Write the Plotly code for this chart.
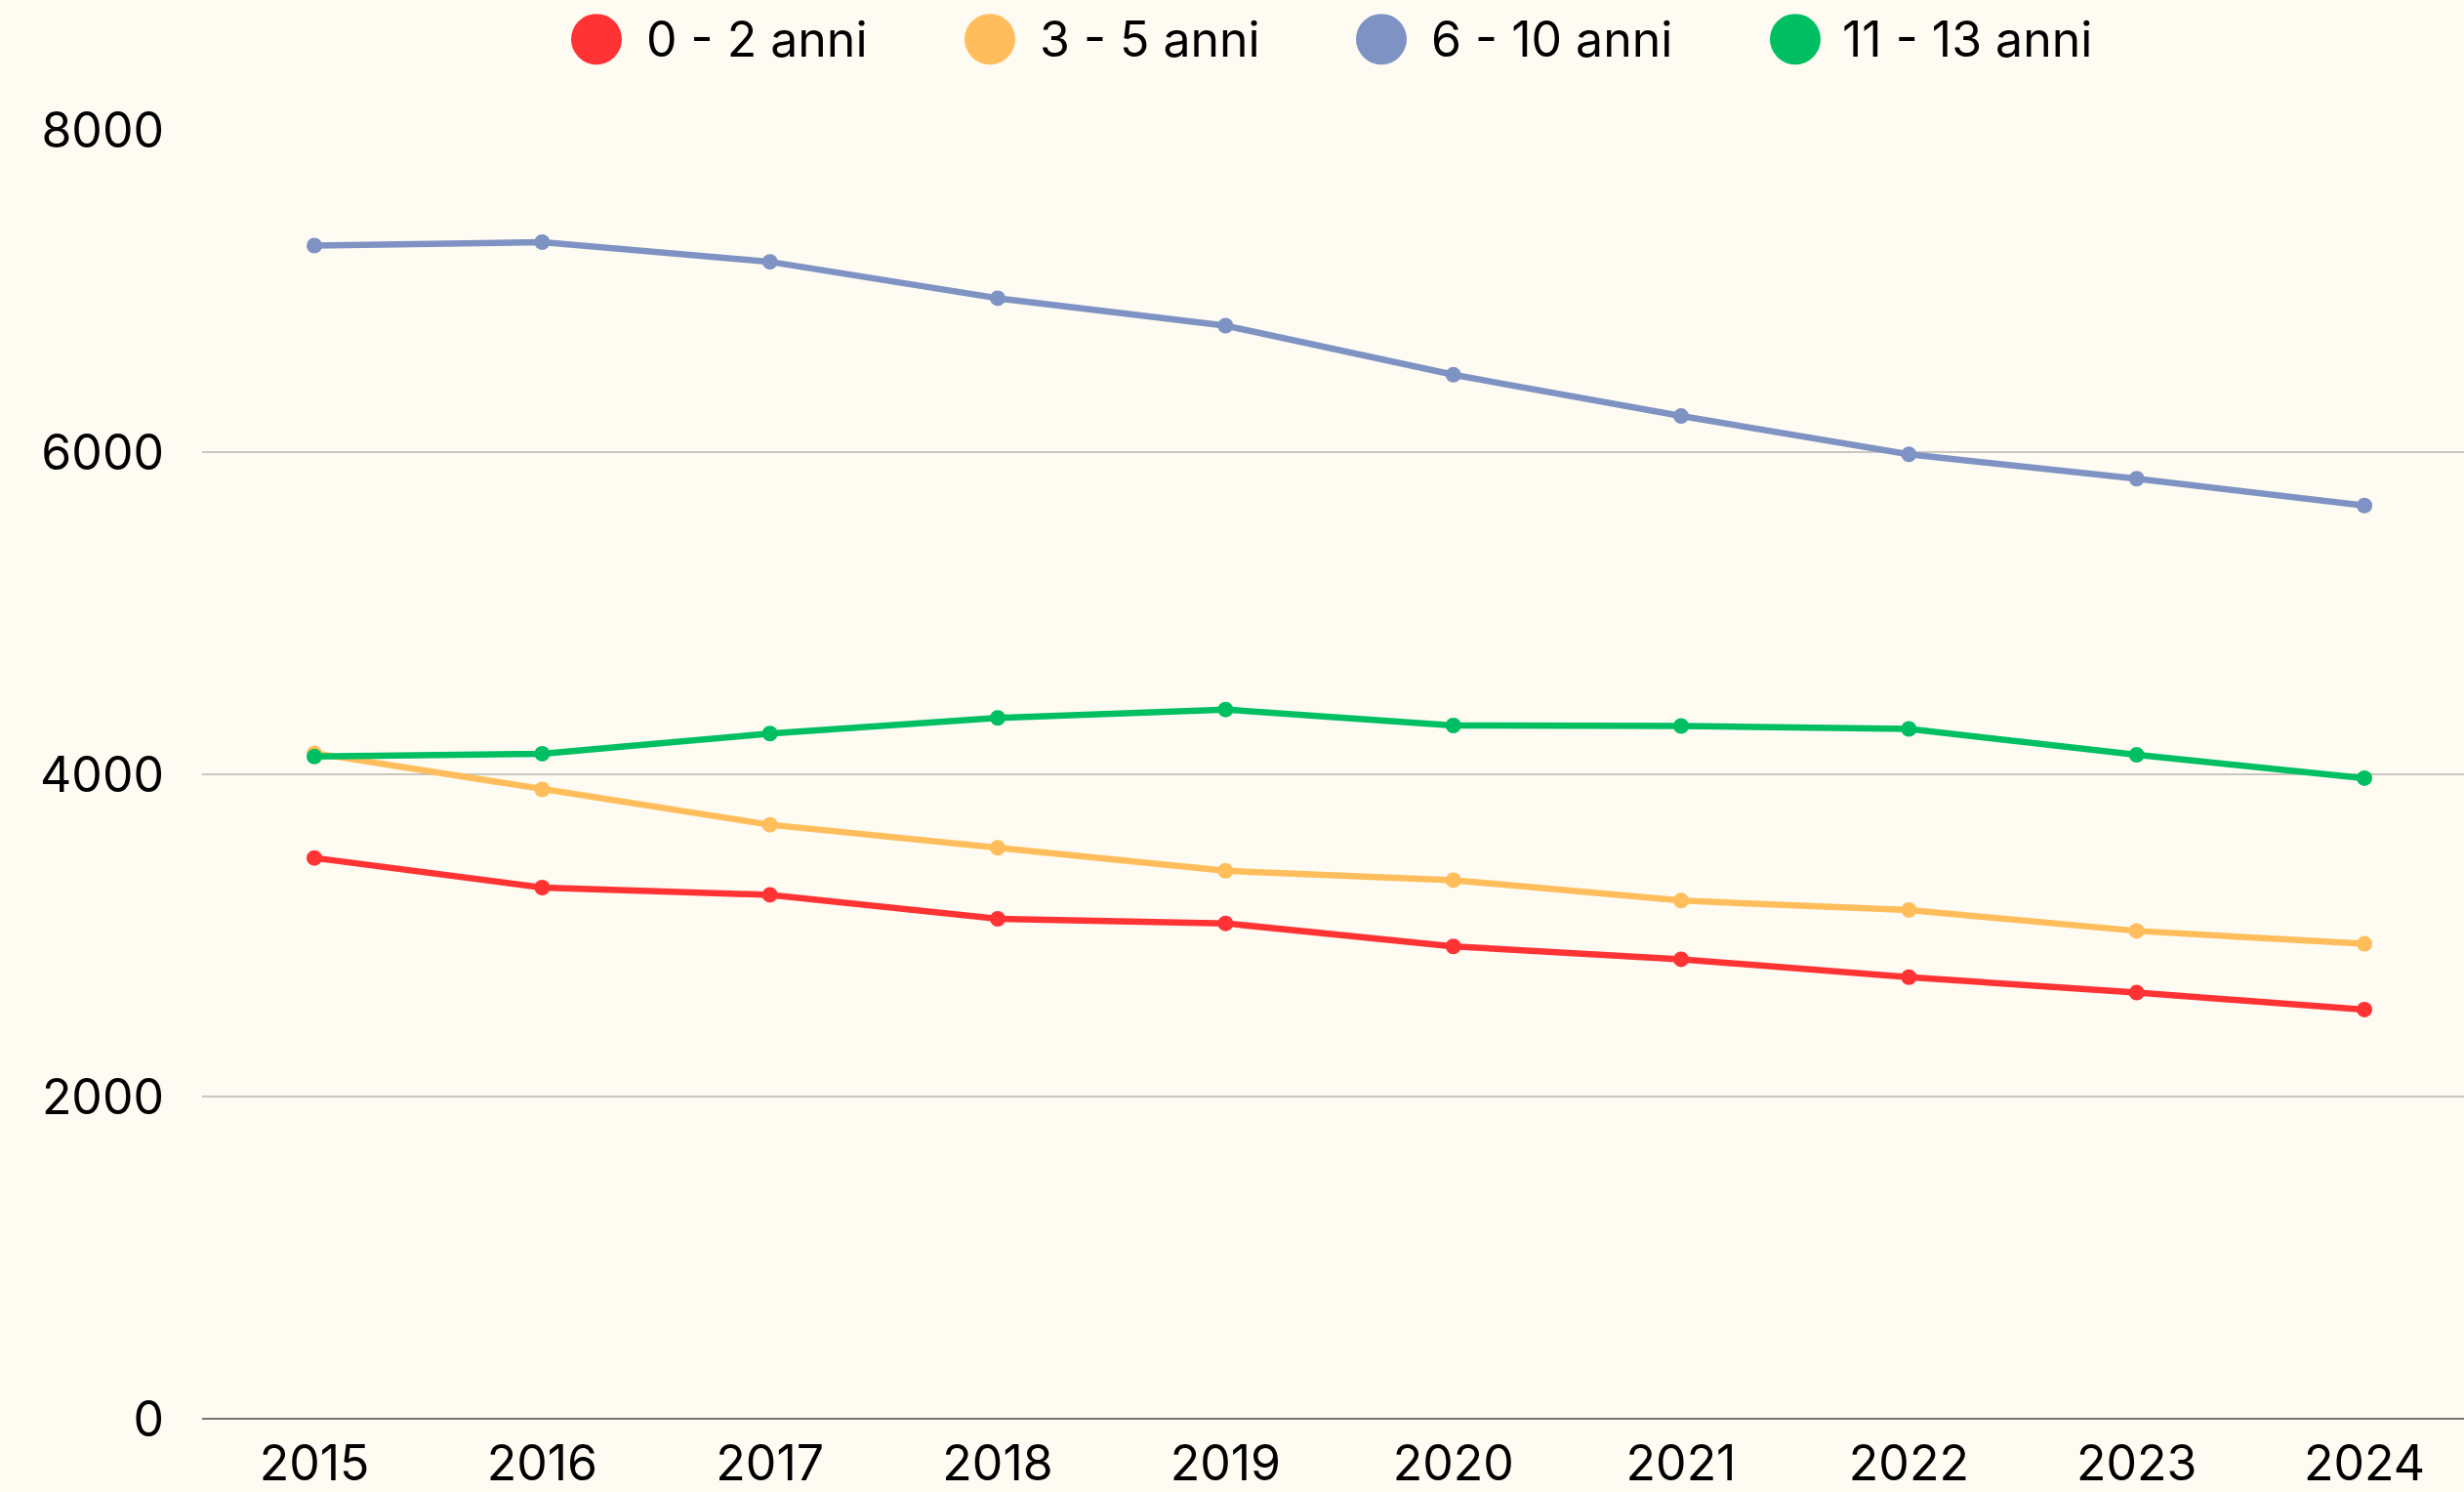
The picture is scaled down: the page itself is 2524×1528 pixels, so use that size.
"""
Andamento della popolazione per fasce d'età (2015-2024)
"""
import plotly.graph_objects as go

# dati
anni = [2015, 2016, 2017, 2018, 2019, 2020, 2021, 2022, 2023, 2024]
eta_0_2 = [3481, 3297, 3252, 3103, 3075, 2932, 2852, 2741, 2645, 2540]
eta_3_5 = [4131, 3906, 3687, 3544, 3401, 3343, 3216, 3158, 3028, 2948]
eta_6_10 = [7282, 7303, 7181, 6955, 6785, 6480, 6224, 5986, 5835, 5668]
eta_11_13 = [4110, 4128, 4253, 4350, 4402, 4303, 4300, 4282, 4121, 3976]

etichette = ["0 - 2 anni", "3 - 5 anni", "6 - 10 anni", "11 - 13 anni"]
colori = ["#ff3334", "#ffbe5b", "#7e93c3", "#00bf63"]
serie = [eta_0_2, eta_3_5, eta_6_10, eta_11_13]

SFONDO = "#fefbf3"
FONT = "Inter"

W, H = 2524, 1528
ML, MR, MT, MB = 207, 0, 133, 73


def px_to_paper(x, y):
    """converte coordinate pixel in coordinate paper"""
    return (x - ML) / (W - ML - MR), (H - MB - y) / (H - MT - MB)


fig = go.Figure()

for nome, col, valori in zip(etichette, colori, serie):
    fig.add_trace(go.Scatter(
        x=anni, y=valori, name=nome, mode="lines+markers",
        line=dict(color=col, width=6.5),
        marker=dict(color=col, size=16),
        showlegend=False,
    ))

# legenda disegnata a mano (cerchi grandi)
pos_legenda = [(611, 660), (1014, 1063), (1415, 1464), (1839, 1885)]
shapes = []
annotations = []
for (cx, tx), nome, col in zip(pos_legenda, etichette, colori):
    px, py = px_to_paper(cx, 40)
    shapes.append(dict(
        type="circle", xref="paper", yref="paper",
        xsizemode="pixel", ysizemode="pixel",
        xanchor=px, yanchor=py,
        x0=-26, x1=26, y0=-26, y1=26,
        fillcolor=col, line=dict(width=0),
    ))
    tpx, tpy = px_to_paper(tx, 40)
    annotations.append(dict(
        text=nome, xref="paper", yref="paper", x=tpx, y=tpy,
        xanchor="left", yanchor="middle", showarrow=False,
        font=dict(family=FONT, size=50, color="#000000"),
    ))

fig.update_layout(
    width=W, height=H,
    margin=dict(l=ML, r=MR, t=MT, b=MB),
    paper_bgcolor=SFONDO, plot_bgcolor=SFONDO,
    font=dict(family=FONT, size=50, color="#000000"),
    shapes=shapes, annotations=annotations,
    xaxis=dict(
        range=[2014.507, 2024.437], tickvals=anni, tickformat="d",
        showgrid=False, zeroline=False, showline=False,
        ticks="", ticklabelstandoff=12,
    ),
    yaxis=dict(
        range=[0, 8000], tickvals=[0, 2000, 4000, 6000, 8000],
        showgrid=True, gridcolor="#c9c7c1", gridwidth=2,
        zeroline=True, zerolinecolor="#767676", zerolinewidth=2,
        showline=False, ticks="", ticklabelstandoff=38,
    ),
)

# niente margine del body, la figura occupa tutta la finestra
fig.write_html("out.html", config={"displayModeBar": False},
               post_script="document.body.style.margin='0';")
